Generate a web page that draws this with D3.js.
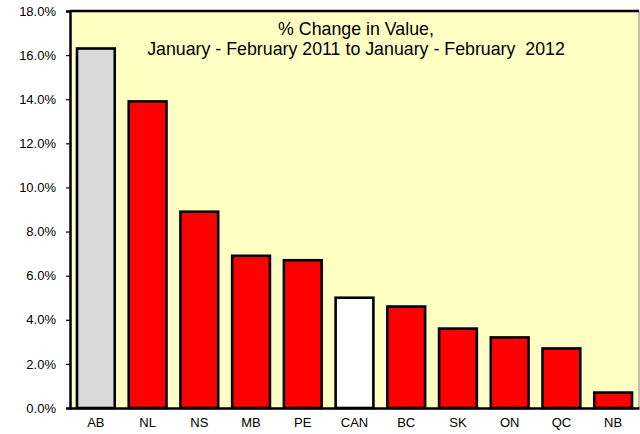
<!DOCTYPE html>
<html lang="en">
<head>
<meta charset="UTF-8">
<title>% Change in Value</title>
<script src="https://d3js.org/d3.v7.min.js"></script>
<style>
  body { margin: 0; background: #fff; }
  text { font-family: "Liberation Sans", Arial, sans-serif; fill: #000; }
</style>
</head>
<body>
<div id="chart"></div>
<script>
// data
var provinces = ["AB", "NL", "NS", "MB", "PE", "CAN", "BC", "SK", "ON", "QC", "NB"];
var changes = [16.3, 13.9, 8.9, 6.9, 6.7, 5.0, 4.6, 3.6, 3.2, 2.7, 0.7];
var barColors = ["#d9d9d9", "#ff0000", "#ff0000", "#ff0000", "#ff0000", "#ffffff",
                 "#ff0000", "#ff0000", "#ff0000", "#ff0000", "#ff0000"];
var yTicks = [0, 2, 4, 6, 8, 10, 12, 14, 16, 18];
var titleLines = ["% Change in Value,", "January - February 2011 to January - February  2012"];

var W = 640, H = 434;
var margin = {top: 11, right: 1, bottom: 26, left: 70},
    width = W - margin.left - margin.right,
    height = H - margin.top - margin.bottom;

var svg = d3.select("#chart").append("svg")
    .attr("width", W)
    .attr("height", H);

var g = svg.append("g")
    .attr("transform", "translate(" + margin.left + "," + margin.top + ")");

var x = d3.scaleBand()
    .domain(provinces)
    .range([0, width])
    .paddingInner(0.27)
    .paddingOuter(0.135);

var y = d3.scaleLinear()
    .domain([0, 18])
    .range([height, 0]);

// plot background
g.append("rect")
    .attr("width", width)
    .attr("height", height)
    .attr("fill", "#ffffc4");

// right border (thin grey) and top border
g.append("line")
    .attr("x1", width).attr("x2", width)
    .attr("y1", 0).attr("y2", height)
    .attr("stroke", "#808080").attr("stroke-width", 1);
g.append("line")
    .attr("x1", 0).attr("x2", width)
    .attr("y1", 0).attr("y2", 0)
    .attr("stroke", "#000").attr("stroke-width", 2.5);

// bars
g.selectAll(".bar")
  .data(provinces)
  .enter().append("rect")
    .attr("class", "bar")
    .attr("x", function(d) { return x(d); })
    .attr("width", x.bandwidth())
    .attr("y", function(d, i) { return y(changes[i]); })
    .attr("height", function(d, i) { return height - y(changes[i]); })
    .attr("fill", function(d, i) { return barColors[i]; })
    .attr("stroke", "#000")
    .attr("stroke-width", 2.6);

// y axis
var yAxis = g.append("g")
    .call(d3.axisLeft(y)
      .tickValues(yTicks)
      .tickSize(4)
      .tickPadding(10)
      .tickFormat(function(d) { return d.toFixed(1) + "%"; }));
yAxis.select(".domain").attr("stroke", "#000").attr("stroke-width", 2.5);
yAxis.selectAll(".tick line").attr("stroke", "#000").attr("stroke-width", 1.2);
yAxis.selectAll("text")
    .style("font-size", "13px")
    .style("font-family", "'Liberation Sans', Arial, sans-serif");

// x axis
var xAxis = g.append("g")
    .attr("transform", "translate(0," + height + ")")
    .call(d3.axisBottom(x).tickSize(0).tickPadding(10));
xAxis.select(".domain").attr("stroke", "#000").attr("stroke-width", 2.5);
xAxis.selectAll("text")
    .style("font-size", "13px")
    .style("font-family", "'Liberation Sans', Arial, sans-serif");

// title
g.append("text")
    .attr("x", 286)
    .attr("y", 24)
    .attr("text-anchor", "middle")
    .style("font-size", "17.8px")
    .style("white-space", "pre")
  .selectAll("tspan")
  .data(titleLines)
  .enter().append("tspan")
    .attr("x", 286)
    .attr("dy", function(d, i) { return i === 0 ? 0 : 20; })
    .text(function(d) { return d; });
</script>
</body>
</html>
